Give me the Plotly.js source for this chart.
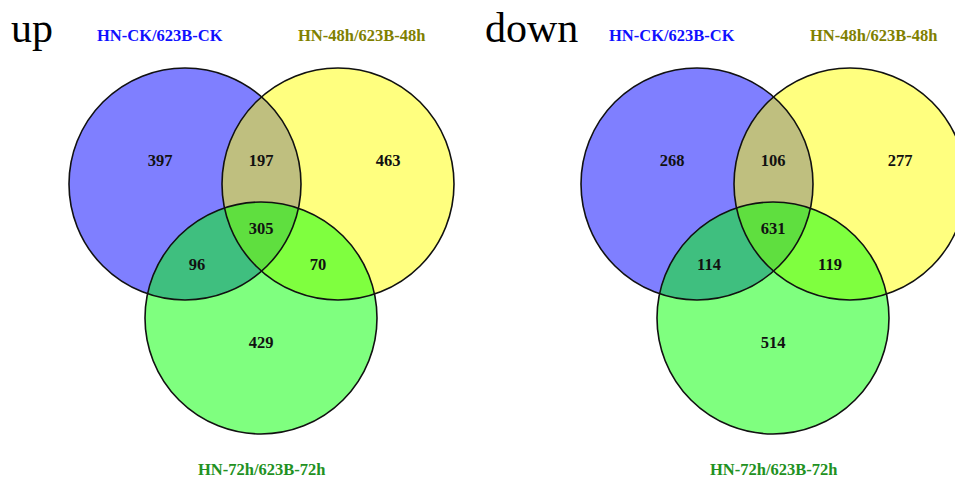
<!DOCTYPE html>
<html>
<head>
<meta charset="utf-8">
<script src="https://cdn.plot.ly/plotly-3.0.1.min.js"></script>
<style>
  html, body { margin: 0; padding: 0; background: #ffffff; }
  #chart { width: 955px; height: 479px; }
</style>
</head>
<body>
<div id="chart"></div>
<script>
// Three comparison sets shown in each Venn diagram
const setNames = ['HN-CK/623B-CK', 'HN-48h/623B-48h', 'HN-72h/623B-72h'];
const setLabelColors = ['#1010ff', '#808000', '#229122'];
const setFillColors = ['rgba(0,0,255,0.5)', 'rgba(255,255,0,0.5)', 'rgba(0,255,0,0.5)'];

// Panel titles
const panelTitles = ['up', 'down'];

// Region order: CK only, CK∩48h, 48h only, all three, CK∩72h, 48h∩72h, 72h only
const regionNames = ['CK', 'CK&48h', '48h', 'CK&48h&72h', 'CK&72h', '48h&72h', '72h'];
const upCounts   = [397, 197, 463, 305, 96, 70, 429];
const downCounts = [268, 106, 277, 631, 114, 119, 514];

// Geometry of one diagram (pixel units, y grows downward)
const radius = 116;
const circleCenters = [[185, 184], [338, 184], [261, 318]];
const regionAnchors = [[160, 162], [261, 162], [388, 162], [261, 230], [197, 266], [318, 266], [261, 344]];
const panelOffsets = [0, 512];
const setLabelPos = [[160, 35], [361, 35], [261, 469]];
const titlePos = [[32, 28], [531, 28]];

const countsByPanel = [upCounts, downCounts];
const shapes = [];
const annotations = [];
const traces = [];

panelOffsets.forEach((dx, p) => {
  // filled discs, layered so overlaps blend
  circleCenters.forEach((c, i) => {
    shapes.push({
      type: 'circle', xref: 'x', yref: 'y', layer: 'below',
      x0: c[0] + dx - radius, x1: c[0] + dx + radius,
      y0: c[1] - radius, y1: c[1] + radius,
      fillcolor: setFillColors[i], line: { width: 0 }
    });
  });
  // outlines on top of all fills
  circleCenters.forEach((c) => {
    shapes.push({
      type: 'circle', xref: 'x', yref: 'y', layer: 'below',
      x0: c[0] + dx - radius, x1: c[0] + dx + radius,
      y0: c[1] - radius, y1: c[1] + radius,
      fillcolor: 'rgba(0,0,0,0)', line: { color: '#111111', width: 1.6 }
    });
  });

  // region counts
  const counts = countsByPanel[p];
  traces.push({
    type: 'scatter', mode: 'text', hoverinfo: 'skip', showlegend: false,
    x: regionAnchors.map(a => a[0] + dx),
    y: regionAnchors.map(a => a[1]),
    text: counts.map(String),
    customdata: regionNames,
    textfont: { family: 'Liberation Serif, Times New Roman, serif', size: 16.5, color: '#111111', weight: 'bold' }
  });

  // set names
  setNames.forEach((name, i) => {
    annotations.push({
      xref: 'x', yref: 'y', x: setLabelPos[i][0] + dx, y: setLabelPos[i][1],
      text: '<b>' + name + '</b>', showarrow: false, borderpad: 0,
      font: { family: 'Liberation Serif, Times New Roman, serif', size: 16.5, color: setLabelColors[i] }
    });
  });

  // panel title
  annotations.push({
    xref: 'x', yref: 'y', x: titlePos[p][0], y: titlePos[p][1],
    text: panelTitles[p], showarrow: false, xanchor: 'center',
    font: { family: 'Liberation Serif, Times New Roman, serif', size: 42, color: '#000000' }
  });
});

const layout = {
  width: 955, height: 479,
  margin: { l: 0, r: 0, t: 0, b: 0 },
  paper_bgcolor: '#ffffff', plot_bgcolor: '#ffffff',
  xaxis: { range: [0, 955], visible: false, fixedrange: true },
  yaxis: { range: [479, 0], visible: false, fixedrange: true },
  shapes: shapes,
  annotations: annotations,
  showlegend: false
};

Plotly.newPlot('chart', traces, layout, { staticPlot: true, displayModeBar: false });
</script>
</body>
</html>
